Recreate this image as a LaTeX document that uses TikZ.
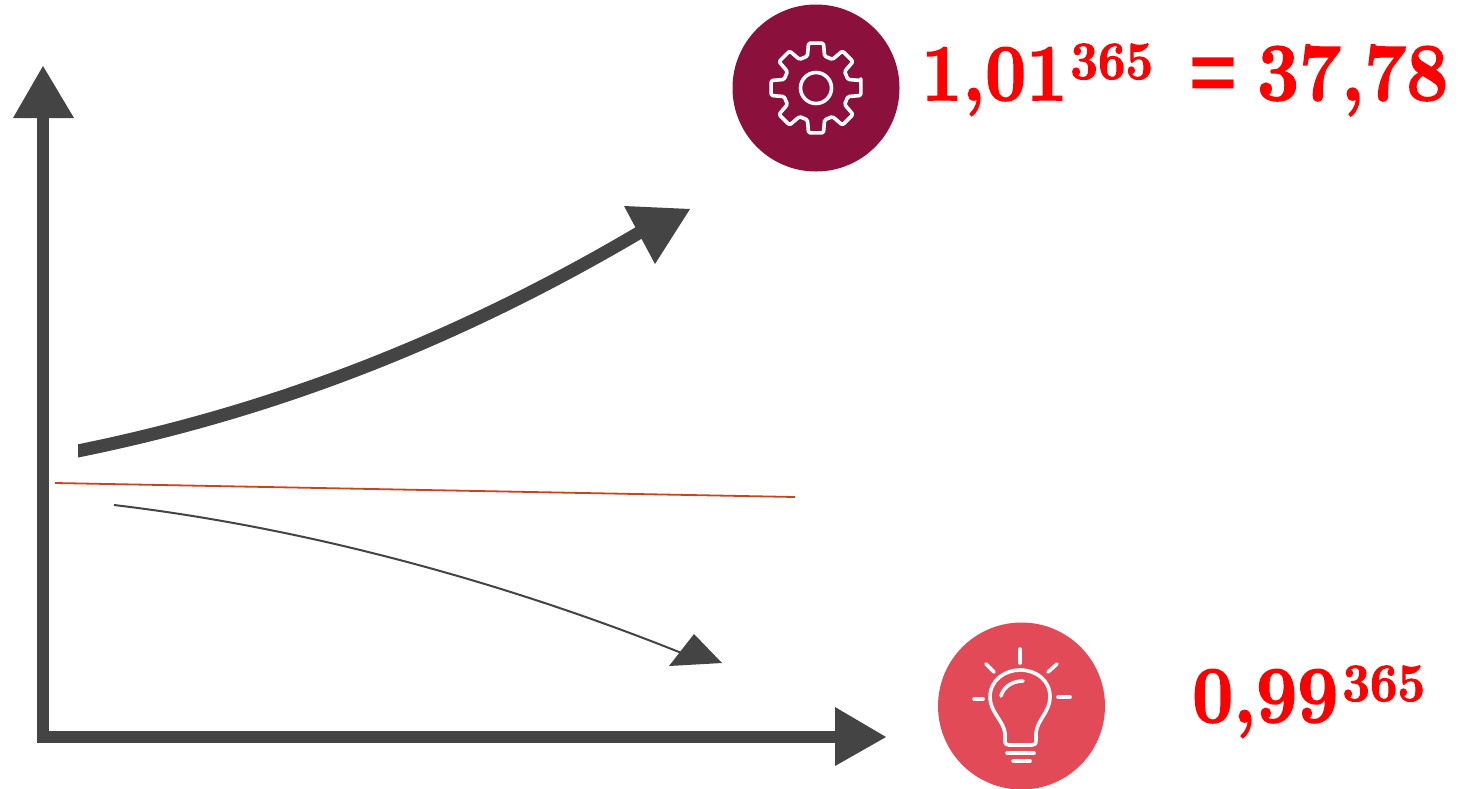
\documentclass[tikz,border=0pt]{standalone}
\usepackage{fontspec}
\setmainfont{Latin Modern Roman}[BoldFont=Latin Modern Roman/B,BoldFeatures={FakeBold=2}]
\newfontfamily\eqsign{Liberation Sans}
\definecolor{axisgrey}{HTML}{444444}
\definecolor{gearred}{HTML}{8B103B}
\definecolor{bulbred}{HTML}{E24A58}
\definecolor{thinred}{HTML}{C8431F}
\definecolor{eqred}{HTML}{FF0000}
\newcommand{\bigdigits}[2][73]{\scalebox{1}[1.1]{\fontsize{#1}{#1}\selectfont\bfseries #2}}
\newcommand{\expdigits}[1]{\raisebox{21pt}{\scalebox{1}[1.1]{\fontsize{49}{49}\selectfont\bfseries #1}}}
\tikzset{
  head/.style={fill=axisgrey,draw=none},
  axisline/.style={draw=axisgrey,line width=12pt},
  iconline/.style={draw=white,line width=3.6pt,line cap=round,line join=round},
  disc/.style={circle,draw=none,minimum size=167pt,inner sep=0pt},
  eqtext/.style={anchor=base west,inner sep=0pt,text=eqred}
}
\begin{document}
\begin{tikzpicture}[x=1pt,y=-1pt]
\useasboundingbox (0,0) rectangle (1458,788);
\clip (0,0) rectangle (1458,788);
% axes
\coordinate (origin) at (43,737);
\coordinate (ytop) at (43,118);
\coordinate (xend) at (836,737);
\draw[axisline,line join=miter] (ytop) -- (origin) -- (xend);
\fill[head] (43,66) -- (13,118) -- (74,118) -- cycle;
\fill[head] (835,707) -- (886,737) -- (835,766) -- cycle;
% rising curve
\coordinate (upa) at (70,452.5);
\coordinate (upb) at (642,231);
\begin{scope}
\clip (78,0) rectangle (1458,788);
\draw[draw=axisgrey,line width=13pt] (upa) .. controls (270,413) and (456,341) .. (upb);
\end{scope}
\fill[head] (624,206) -- (690,209) -- (655,264) -- cycle;
% flat line
\coordinate (flata) at (55,483);
\coordinate (flatb) at (795,497);
\draw[draw=thinred,line width=1.8pt] (flata) -- (flatb);
% falling curve
\coordinate (downa) at (114,505);
\coordinate (downb) at (684,654);
\draw[draw=axisgrey,line width=2pt] (downa) .. controls (300,527) and (500,580) .. (downb);
\fill[head] (694,634) -- (722,663) -- (669,666) -- cycle;
% gear
\node[disc,fill=gearred] (gear) at (816,88) {};
\draw[iconline,rounded corners=1.5pt]
  ([shift={(-9.5:45.5)}]gear.center)
  \foreach \a in {0,45,...,315} {
    -- ([shift={(\a-9.5:45.5)}]gear.center)
    -- ([shift={(\a+9.5:45.5)}]gear.center)
    -- ([shift={(\a+15:33)}]gear.center)
    -- ([shift={(\a+30:33)}]gear.center)
  } -- cycle;
\draw[iconline] (gear.center) circle[radius=15.5];
% bulb
\node[disc,fill=bulbred] (bulb) at (1021.5,706) {};
\draw[iconline] (1005,733) .. controls (1003,720) and (990,712) .. (990,697)
  .. controls (990,680) and (1005,670) .. (1020,670)
  .. controls (1036,670) and (1050,680) .. (1050,697)
  .. controls (1050,712) and (1037,720) .. (1036,733)
  -- (1036,740) .. controls (1036,744) and (1035,745) .. (1032,745)
  -- (1009,745) .. controls (1006,745) and (1005,744) .. (1005,740) -- cycle;
\draw[iconline] (1001,696) .. controls (1003,688) and (1011,681) .. (1023,681);
\draw[iconline] (1007,753) -- (1034,753);
\draw[iconline] (1013,761) -- (1030,761);
\draw[iconline] (1020,649) -- (1020,663);
\draw[iconline] (986,664) -- (994,672);
\draw[iconline] (1057,664) -- (1048,672);
\draw[iconline] (974,699) -- (983,699);
\draw[iconline] (1058,697) -- (1070,697);
% equations
\node[eqtext] (eqa) at (921,100) {\bigdigits{1,01}\kern3pt\expdigits{365}};
\node[eqtext] (eqs) at (1189,100) {\fontsize{82}{82}\selectfont\eqsign\bfseries =};
\node[eqtext] (eqb) at (1257,100) {\bigdigits[74.5]{37,78}};
\node[eqtext] (eqc) at (1192,722) {\bigdigits{0,99}\kern4pt\expdigits{365}};
\end{tikzpicture}
\end{document}
